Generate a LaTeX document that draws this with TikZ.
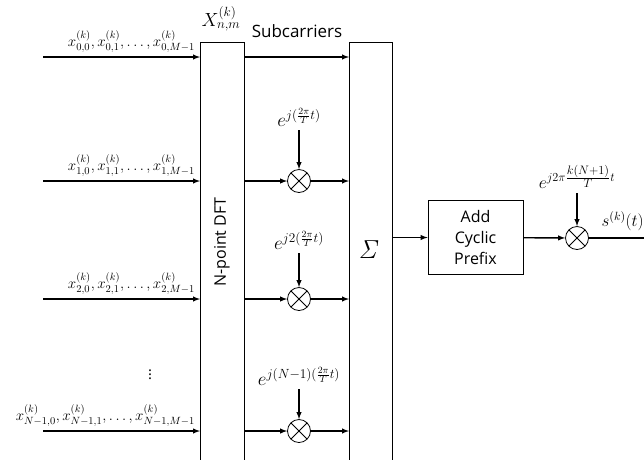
\RequirePackage{fix-cm}
\documentclass[tikz,border=0pt]{standalone}
\usepackage[no-math]{fontspec}
\setmainfont{Open Sans}
\usepackage{amsmath}
\usetikzlibrary{positioning,calc}
\tikzset{>=latex}

\begin{document}
\begin{tikzpicture}[x=1pt, y=-1pt, font=\fontsize{15}{18}\selectfont,
    sig/.style={line width=1.4pt, ->},
    block/.style={draw, line width=0.8pt, inner sep=0pt},
    mult/.style={draw, circle, line width=0.8pt, minimum size=23pt, inner sep=0pt,
        path picture={\draw[line width=0.8pt] (path picture bounding box.north west) -- (path picture bounding box.south east)
            (path picture bounding box.north east) -- (path picture bounding box.south west);}},
    expo/.style={inner sep=1pt, font=\fontsize{19}{22}\selectfont}]
    \useasboundingbox (0,0) rectangle (644,459);
    \clip (0,0) rectangle (644,459);
    % blocks
    \node[block, anchor=north west, minimum width=44pt, minimum height=440pt] (dft) at (200,42) {};
    \node[rotate=90, font=\fontsize{16}{18}\selectfont] (dftlab) at (222,242) {N-point DFT};
    \node[block, anchor=north west, minimum width=43pt, minimum height=440pt] (sum) at (349,42) {};
    \node (sumlab) at (369,250) {\fontsize{26}{30}\selectfont$\mathit{\Sigma}$};
    \node[inner sep=1pt, font=\fontsize{19}{22}\selectfont] (xnm) at (221,19) {$X^{(k)}_{n,m}$};
    \node[font=\fontsize{17}{20}\selectfont] (sub) at (297,31) {Subcarriers};
    % inputs
    \foreach \n/\y [count=\r] in {0/57, 1/181, 2/299, N-1/431}{
        \coordinate (in\r) at (43,\y);
        \draw[sig] (in\r) -- (in\r -| dft.west);
        \node[anchor=south east, inner sep=1pt, font=\fontsize{15}{18}\selectfont] (lab\r)
            at ($(in\r -| dft.west)+(-4,-3)$) {$x^{(k)}_{\n,0},x^{(k)}_{\n,1},\dots,x^{(k)}_{\n,M-1}$};
    }
    \node[inner sep=0pt] (dots) at (150,372) {$\vdots$};
    % subcarriers
    \draw[sig] (in1 -| dft.east) -- (in1 -| sum.west);
    \foreach \r/\ly/\ex in {2/117/{j(\frac{2\pi}{T}t)}, 3/240/{j2(\frac{2\pi}{T}t)}, 4/376/{j(N-1)(\frac{2\pi}{T}t)}}{
        \node[mult] (m\r) at (in\r -| 299,0) {};
        \node[expo] (e\r) at (299,\ly) {$e^{\ex}$};
        \draw[sig] (in\r -| dft.east) -- (m\r);
        \draw[sig] (m\r) -- (m\r -| sum.west);
        \draw[sig] ($(e\r.south)+(0,3)$) -- (m\r);
    }
    % cyclic prefix and output
    \node[block, minimum width=95pt, minimum height=74pt, align=center,
        font=\fontsize{16}{21}\selectfont] (acp) at (475.5,237.5) {Add\\Cyclic\\Prefix};
    \draw[sig] (sum.east |- acp) -- (acp);
    \node[mult] (mo) at (577,238) {};
    \node[expo, font=\fontsize{17.5}{20}\selectfont] (eo) at (577,177) {$e^{j2\pi\frac{\scriptstyle k(N+1)}{\scriptstyle T}t}$};
    \draw[sig] (acp) -- (mo);
    \draw[sig] ($(eo.south)+(0,3)$) -- (mo);
    \coordinate (out) at (680,238);
    \draw[sig] (mo) -- (out);
    \node[anchor=west, font=\fontsize{17}{20}\selectfont] (sout) at (598,221) {$s^{(k)}(t)$};
\end{tikzpicture}
\end{document}
